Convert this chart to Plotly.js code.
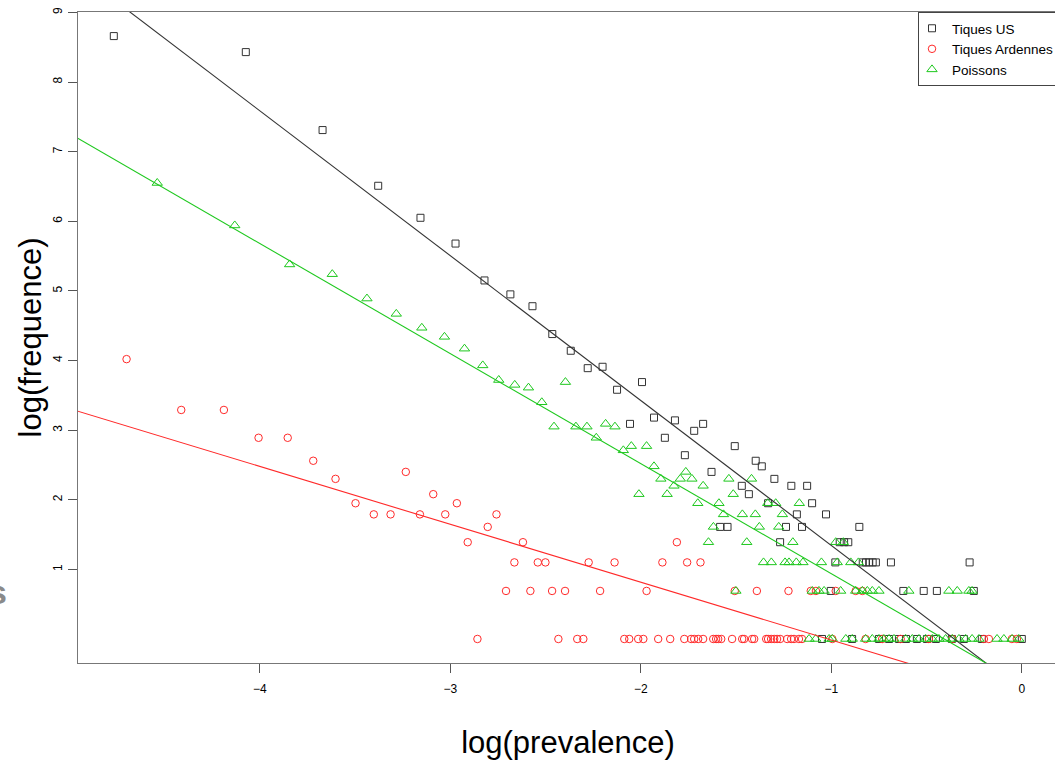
<!DOCTYPE html>
<html><head><meta charset="utf-8">
<script src="https://cdn.plot.ly/plotly-3.0.1.min.js"></script>
<style>html,body{margin:0;padding:0;overflow:hidden;background:#fff}#chart{width:1060px;height:764px}</style>
</head><body><div id="chart"></div>
<script>
const seriesNames = ['Tiques US', 'Tiques Ardennes', 'Poissons'];
const seriesColors = ['#333333', '#ff2a2a', '#1ec81e'];

// Tiques US (log prevalence, log frequence)
const usX = [-4.767, -4.074, -3.671, -3.379, -3.157, -2.973, -2.821, -2.685, -2.569, -2.465,
  -2.368, -2.279, -2.201, -2.125, -1.994, -2.057, -1.931, -1.821, -1.874, -1.72,
  -1.673, -1.769, -1.507, -1.629, -1.584, -1.545, -1.397, -1.365, -1.299, -1.21,
  -1.127, -1.47, -1.433, -1.332, -1.101, -1.181, -1.028, -1.238, -1.154, -0.853,
  -1.269, -0.956, -0.933, -0.911, -0.979, -0.835, -0.818, -0.801, -0.783, -0.766,
  -0.687, -0.274, -1.003, -0.622, -0.515, -0.446, -0.252,
  -1.049, -0.891, -0.75, -0.697, -0.645, -0.608, -0.551, -0.498, -0.451, -0.367, -0.304, -0.21, 0];
const usY = [8.66, 8.43, 7.31, 6.51, 6.05, 5.68, 5.15, 4.95, 4.78, 4.38,
  4.14, 3.89, 3.91, 3.58, 3.69, 3.09, 3.18, 3.14, 2.89, 2.99,
  3.09, 2.64, 2.77, 2.40, 1.61, 1.61, 2.56, 2.48, 2.30, 2.20,
  2.20, 2.20, 2.08, 1.95, 1.95, 1.79, 1.79, 1.61, 1.61, 1.61,
  1.39, 1.39, 1.39, 1.39, 1.10, 1.10, 1.10, 1.10, 1.10, 1.10,
  1.10, 1.10, 0.69, 0.69, 0.69, 0.69, 0.69,
  0, 0, 0, 0, 0, 0, 0, 0, 0, 0, 0, 0, 0];

// Tiques Ardennes
const ardX = [-4.7, -4.413, -4.189, -4.007, -3.854, -3.72, -3.603, -3.234, -3.498, -3.402,
  -3.314, -3.16, -3.09, -3.027, -2.966, -2.909, -2.758, -2.804, -2.619, -2.664,
  -2.541, -2.501, -2.274, -2.138, -1.887, -1.757, -1.687, -1.811,
  -2.708, -2.58, -2.466, -2.398, -2.214, -1.97, -1.507, -1.391, -1.225, -1.108, -1.081, -0.977, -0.872, -0.837,
  -2.858, -2.433, -2.334, -2.302, -2.087, -2.061, -2.014, -1.987, -1.909, -1.846,
  -1.772, -1.736, -1.72, -1.699, -1.673, -1.62, -1.605, -1.594, -1.578, -1.521,
  -1.468, -1.458, -1.416, -1.405, -1.342, -1.332, -1.316, -1.3, -1.285, -1.269,
  -1.232, -1.211, -1.196, -1.17, -1.154, -0.995, -0.82, -0.733, -0.636, -0.488,
  -0.365, -0.199, -0.173, -0.052, -0.026];
const ardY = [4.02, 3.29, 3.29, 2.89, 2.89, 2.56, 2.30, 2.40, 1.95, 1.79,
  1.79, 1.79, 2.08, 1.79, 1.95, 1.39, 1.79, 1.61, 1.39, 1.10,
  1.10, 1.10, 1.10, 1.10, 1.10, 1.10, 1.10, 1.39,
  0.69, 0.69, 0.69, 0.69, 0.69, 0.69, 0.69, 0.69, 0.69, 0.69, 0.69, 0.69, 0.69, 0.69,
  0, 0, 0, 0, 0, 0, 0, 0, 0, 0,
  0, 0, 0, 0, 0, 0, 0, 0, 0, 0,
  0, 0, 0, 0, 0, 0, 0, 0, 0, 0,
  0, 0, 0, 0, 0, 0, 0, 0, 0, 0,
  0, 0, 0, 0, 0];

// Poissons
const poisX = [-4.539, -4.132, -3.844, -3.62, -3.438, -3.284, -3.15, -3.031, -2.926, -2.83,
  -2.746, -2.662, -2.59, -2.52, -2.396, -2.456, -2.341, -2.283, -2.234, -2.185,
  -2.136, -2.092, -2.05, -1.97, -2.01, -1.931, -1.895, -1.862, -1.826, -1.793,
  -1.764, -1.732, -1.673, -1.701, -1.59, -1.566, -1.619, -1.645, -1.538, -1.515,
  -1.419, -1.334, -1.292, -1.168, -1.467, -1.399, -1.257, -1.378, -1.276, -1.444,
  -1.202, -0.977, -0.937,
  -1.356, -1.315, -1.243, -1.222, -1.184, -1.149, -1.052, -0.969, -0.898, -0.858,
  -1.501, -1.1, -1.065, -1.038, -0.951, -0.872, -0.837, -0.811, -0.785, -0.75,
  -0.593, -0.383, -0.339, -0.278, -0.261,
  -1.117, -1.082, -1.012, -0.995, -0.924, -0.89, -0.82, -0.785, -0.75, -0.724,
  -0.697, -0.671, -0.61, -0.575, -0.54, -0.505, -0.47, -0.435, -0.4, -0.365,
  -0.33, -0.295, -0.261, -0.225, -0.13, -0.094, -0.051, -0.016];
const poisY = [6.55, 5.94, 5.38, 5.24, 4.89, 4.67, 4.47, 4.34, 4.17, 3.93,
  3.72, 3.65, 3.61, 3.40, 3.69, 3.05, 3.05, 3.05, 2.89, 3.09,
  3.05, 2.71, 2.77, 2.77, 2.08, 2.48, 2.30, 2.08, 2.20, 2.30,
  2.40, 2.30, 2.20, 1.95, 1.95, 1.79, 1.61, 1.39, 2.30, 2.08,
  2.30, 1.95, 1.95, 1.95, 1.79, 1.79, 1.79, 1.61, 1.61, 1.39,
  1.39, 1.39, 1.39,
  1.10, 1.10, 1.10, 1.10, 1.10, 1.10, 1.10, 1.10, 1.10, 1.10,
  0.69, 0.69, 0.69, 0.69, 0.69, 0.69, 0.69, 0.69, 0.69, 0.69,
  0.69, 0.69, 0.69, 0.69, 0.69,
  0, 0, 0, 0, 0, 0, 0, 0, 0, 0,
  0, 0, 0, 0, 0, 0, 0, 0, 0, 0,
  0, 0, 0, 0, 0, 0, 0, 0];

// fitted regression lines (intercept, slope) for each series
const fitIntercepts = [-0.738, -0.846, -0.644];
const fitSlopes = [-2.081, -0.831, -1.581];

const xTickVals = [-4, -3, -2, -1, 0];
const yTickVals = [1, 2, 3, 4, 5, 6, 7, 8, 9];

const FONT = 'Liberation Sans, Arial, Helvetica, sans-serif';
const symbols = ['square-open', 'circle-open', 'triangle-up-open'];
const sizes = [7, 7.5, 9];
const xs = [usX, ardX, poisX];
const ys = [usY, ardY, poisY];

const traces = [];
for (let i = 0; i < 3; i++) {
  traces.push({
    type: 'scatter', mode: 'markers', name: seriesNames[i],
    x: xs[i], y: ys[i],
    marker: {symbol: symbols[i], size: sizes[i], color: seriesColors[i], line: {width: 1, color: seriesColors[i]}},
    hoverinfo: 'x+y'
  });
}
const lineSpan = [-6, 1];
for (let i = 0; i < 3; i++) {
  traces.push({
    type: 'scatter', mode: 'lines', showlegend: false, hoverinfo: 'skip',
    x: lineSpan, y: lineSpan.map(v => fitIntercepts[i] + fitSlopes[i] * v),
    line: {color: seriesColors[i], width: 1.1}
  });
}

const layout = {
  width: 1060, height: 764,
  margin: {l: 78, r: 1, t: 12, b: 101, pad: 0},
  paper_bgcolor: '#fff', plot_bgcolor: '#fff',
  font: {family: FONT, color: '#000', size: 12},
  showlegend: true,
  legend: {
    x: 0.8563, xanchor: 'left', y: 1, yanchor: 'top',
    bgcolor: '#fff', bordercolor: '#444', borderwidth: 1,
    font: {family: FONT, size: 13.5, color: '#000'},
    itemwidth: 30, tracegroupgap: 0, indentation: -7
  },
  xaxis: {
    range: [-4.955, 0.19], autorange: false,
    showgrid: false, zeroline: false,
    showline: true, mirror: true, linecolor: '#777', linewidth: 1,
    ticks: 'outside', ticklen: 9, tickcolor: '#555', tickwidth: 1,
    tickvals: xTickVals, tickfont: {size: 12, family: FONT, color: '#000'},
    ticklabelstandoff: 6,
    title: {text: 'log(prevalence)', font: {size: 31, family: FONT, color: '#000'}, standoff: 35}
  },
  yaxis: {
    range: [-0.345, 9.006], autorange: false,
    showgrid: false, zeroline: false,
    showline: true, mirror: true, linecolor: '#777', linewidth: 1,
    ticks: 'outside', ticklen: 9, tickcolor: '#555', tickwidth: 1,
    tickvals: yTickVals, tickangle: -90, tickfont: {size: 12, family: FONT, color: '#000'},
    ticklabelstandoff: 1,
    title: {text: 'log(frequence)', font: {size: 31, family: FONT, color: '#000'}, standoff: 0}
  },
  annotations: [{
    text: 's', xref: 'paper', yref: 'paper', x: -0.0703, y: 0.109,
    xanchor: 'right', yanchor: 'middle', showarrow: false,
    font: {family: FONT, size: 34, color: '#8a8a8a', weight: 'bold'}
  }]
};

Plotly.newPlot('chart', traces, layout, {displayModeBar: false, staticPlot: true});
</script>
</body></html>
